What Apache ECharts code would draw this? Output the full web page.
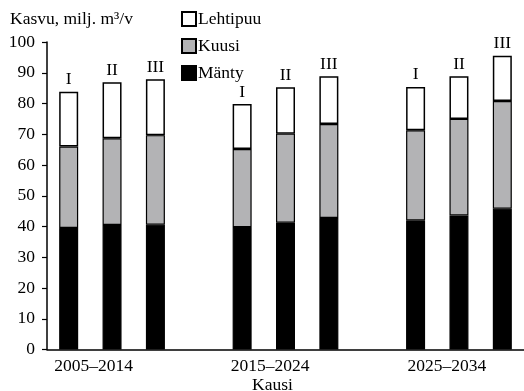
<!DOCTYPE html>
<html>
<head>
<meta charset="utf-8">
<script src="https://cdn.jsdelivr.net/npm/echarts@6/dist/echarts.min.js"></script>
<style>html,body{margin:0;padding:0;background:#fff;}#c{width:524px;height:391px;}</style>
</head>
<body>
<div id="c"></div>
<script>
// Periods (groups) and scenario labels
var periods = ['2005–2014', '2015–2024', '2025–2034'];
var scenarios = ['I', 'II', 'III'];
// Values per period, scenario order I, II, III (milj. m3/v)
var manty = [[39.5, 40.5, 40.6], [39.8, 41.2, 42.8], [42.0, 43.6, 45.8]];
var kuusi = [[26.5, 28.2, 29.1], [25.4, 29.0, 30.5], [29.3, 31.4, 35.0]];
var lehtipuu = [[17.8, 18.2, 18.2], [14.6, 15.1, 15.6], [14.1, 13.9, 14.7]];
var yTicks = [0, 10, 20, 30, 40, 50, 60, 70, 80, 90, 100];

// build slotted category axis: 3 bars per group, one empty slot between groups
function slots(groups) {
  var out = [];
  groups.forEach(function (g, gi) {
    g.forEach(function (v) { out.push(v); });
    if (gi < groups.length - 1) out.push(null);
  });
  return out;
}
var cats = [], catLabels = [], periodAt = {};
periods.forEach(function (p, gi) {
  scenarios.forEach(function (s, si) {
    cats.push(p + ' ' + s);
    catLabels.push(s);
    if (si === 1) periodAt[cats.length - 1] = gi;
  });
  if (gi < periods.length - 1) { cats.push('gap' + gi); catLabels.push(''); }
});
var spacers = [37, 31, 24];

var font = 'Liberation Serif';
var fs = 17.5;
var chart = echarts.init(document.getElementById('c'));
var border = { borderColor: '#000', borderWidth: 1.2 };
chart.setOption({
  animation: false,
  textStyle: { fontFamily: font, color: '#000' },
  title: [
    { text: 'Kasvu, milj. m³/v', left: 5, top: 5, textStyle: { fontFamily: font, fontSize: fs, fontWeight: 'normal', color: '#000' } },
    { text: 'Kausi', left: 247, top: 371, textStyle: { fontFamily: font, fontSize: fs, fontWeight: 'normal', color: '#000' } }
  ],
  legend: {
    orient: 'vertical', left: 181, top: 10, padding: 0, itemWidth: 14, itemHeight: 14, itemGap: 9,
    data: ['Lehtipuu', 'Kuusi', 'Mänty'],
    textStyle: { fontFamily: font, fontSize: fs, color: '#000', padding: [0, 0, 0, -3] },
    icon: 'rect'
  },
  grid: { left: 47, right: -1, top: 42, bottom: 41.5 },
  xAxis: {
    type: 'category', data: cats,
    axisLine: { lineStyle: { color: '#000', width: 1.5 } },
    axisTick: { show: false },
    axisLabel: {
      interval: 0, margin: 8,
      formatter: function (v, i) {
        if (periodAt[i] === undefined) return '';
        var g = periodAt[i];
        return '{t|' + periods[g] + '}{s' + g + '|}';
      },
      rich: {
        t: { fontFamily: font, fontSize: fs, color: '#000' },
        s0: { width: spacers[0] }, s1: { width: spacers[1] }, s2: { width: spacers[2] }
      }
    }
  },
  yAxis: {
    type: 'value', min: 0, max: 100, interval: 10,
    axisLine: { show: true, lineStyle: { color: '#000', width: 1.5 } },
    axisTick: { show: true, length: 5, lineStyle: { color: '#000', width: 1.2 } },
    splitLine: { show: false },
    axisLabel: {
      margin: 12, fontFamily: font, fontSize: fs, color: '#000',
      formatter: function (v) { return yTicks.indexOf(v) >= 0 ? String(v) : ''; }
    }
  },
  series: [
    { name: 'Mänty', type: 'bar', stack: 'a', barWidth: 19, data: slots(manty),
      itemStyle: Object.assign({ color: '#000' }, border) },
    { name: 'Kuusi', type: 'bar', stack: 'a', barWidth: 19, data: slots(kuusi),
      itemStyle: Object.assign({ color: '#b3b3b5' }, border) },
    { name: 'Lehtipuu', type: 'bar', stack: 'a', barWidth: 19, data: slots(lehtipuu),
      itemStyle: Object.assign({ color: '#fff' }, { borderColor: '#000', borderWidth: 1.5 }),
      label: { show: true, position: 'top', distance: 3, fontFamily: font, fontSize: fs, color: '#000',
        formatter: function (p) { return catLabels[p.dataIndex]; } } }
  ]
});
</script>
</body>
</html>
